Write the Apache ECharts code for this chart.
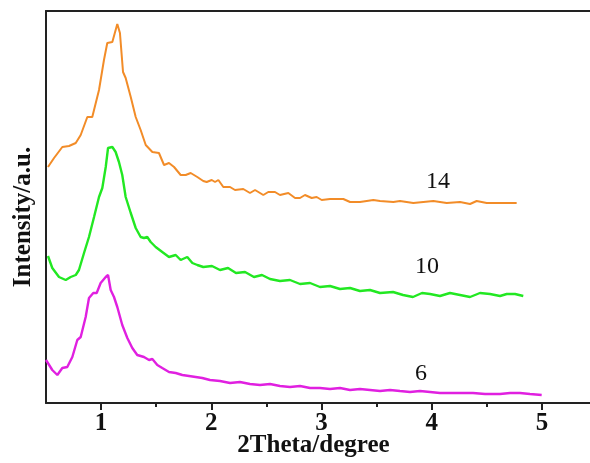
<!DOCTYPE html>
<html>
<head>
<meta charset="utf-8">
<script src="https://cdn.jsdelivr.net/npm/echarts@6/dist/echarts.min.js"></script>
<style>html,body{margin:0;padding:0;background:#fff}#c{width:590px;height:463px}</style>
</head>
<body>
<div id="c"></div>
<script>
// ---- data (2Theta in degrees, intensity in arbitrary units) ----
const sampleNames = ['14', '10', '6'];
const tickValues = [1, 2, 3, 4, 5];
const minorTickValues = [1.5, 2.5, 3.5, 4.5];
const labelAnchors = [[4.057, 221], [3.957, 136], [3.903, 29]];

const s14 = [
  [0.518,236],[0.573,245],[0.648,256],[0.709,257],[0.770,260],[0.815,268],[0.875,286],[0.920,286],
  [0.981,313],[1.026,343],[1.056,360],[1.102,361],[1.147,379],[1.171,370],[1.199,331],[1.223,325],
  [1.269,306],[1.314,286],[1.359,273],[1.405,258],[1.465,251],[1.525,250],[1.571,238],[1.616,240],
  [1.662,236],[1.722,228],[1.768,228],[1.813,230],[1.873,226],[1.927,222],[1.958,221],[2.004,223],
  [2.034,221],[2.064,223],[2.109,216],[2.170,216],[2.215,213],[2.290,214],[2.351,210],[2.397,213],
  [2.472,208],[2.517,211],[2.578,211],[2.623,208],[2.699,210],[2.760,205],[2.805,205],[2.850,208],
  [2.911,205],[2.956,206],[3.002,203],[3.077,204],[3.198,204],[3.259,201],[3.349,201],[3.410,202],
  [3.470,203],[3.531,202],[3.652,201],[3.712,202],[3.833,200],[4.015,202],[4.136,200],[4.257,201],
  [4.348,199],[4.408,202],[4.499,200],[4.620,200],[4.771,200]
];
const s10 = [
  [0.518,147],[0.557,135],[0.618,126],[0.679,123],[0.724,126],[0.770,128],[0.799,133],[0.845,150],
  [0.890,166],[0.936,186],[0.981,206],[1.011,215],[1.042,236],[1.063,255],[1.102,256],[1.132,251],
  [1.162,241],[1.192,228],[1.223,206],[1.269,190],[1.314,175],[1.359,166],[1.389,165],[1.419,166],
  [1.450,161],[1.495,156],[1.555,151],[1.616,146],[1.677,148],[1.722,143],[1.782,146],[1.828,140],
  [1.873,138],[1.927,136],[2.006,137],[2.079,133],[2.152,135],[2.224,130],[2.306,131],[2.387,126],
  [2.460,128],[2.533,124],[2.623,122],[2.714,123],[2.805,119],[2.896,120],[2.986,116],[3.077,117],
  [3.168,114],[3.259,115],[3.349,112],[3.440,113],[3.531,110],[3.649,111],[3.740,108],[3.830,106],
  [3.912,110],[3.985,109],[4.075,107],[4.166,110],[4.257,108],[4.348,106],[4.438,110],[4.529,109],
  [4.620,107],[4.681,109],[4.756,109],[4.831,107]
];
const s6 = [
  [0.500,43],[0.557,33],[0.603,28],[0.648,35],[0.693,36],[0.739,46],[0.784,63],[0.815,66],
  [0.860,86],[0.890,105],[0.929,110],[0.960,110],[0.996,120],[1.042,126],[1.063,128],[1.087,113],
  [1.117,106],[1.147,96],[1.192,78],[1.238,65],[1.283,55],[1.328,48],[1.389,46],[1.435,43],
  [1.465,44],[1.510,38],[1.555,35],[1.616,31],[1.677,30],[1.737,28],[1.798,27],[1.858,26],
  [1.918,25],[1.988,23],[2.079,22],[2.170,20],[2.260,21],[2.351,19],[2.442,18],[2.533,19],
  [2.623,17],[2.714,16],[2.805,17],[2.896,15],[2.986,15],[3.077,14],[3.168,15],[3.259,13],
  [3.349,14],[3.440,13],[3.531,12],[3.622,13],[3.712,12],[3.803,11],[3.894,12],[3.985,11],
  [4.075,10],[4.166,10],[4.257,10],[4.375,10],[4.484,9],[4.620,9],[4.711,10],[4.801,10],
  [4.892,9],[4.998,8]
];
const seriesData = [s14, s10, s6];
const colors = ['#F28C28', '#22E822', '#E020E0'];
const widths = [2, 2.4, 2.4];

const serif = '"Liberation Serif","Times New Roman",serif';

const chart = echarts.init(document.getElementById('c'), null, {renderer: 'canvas'});
chart.setOption({
  animation: false,
  backgroundColor: '#fff',
  grid: {left: 46, top: 11, width: 551, height: 392, containLabel: false, outerBoundsMode: 'none', show: false},
  xAxis: [{
    type: 'value', min: 0.5, max: 5.5, position: 'bottom',
    name: '2Theta/degree', nameLocation: 'middle', nameGap: 30, nameMoveOverlap: false,
    nameTextStyle: {fontFamily: serif, fontWeight: 'bold', fontSize: 25, color: '#111', padding: [0, 16, 0, 0]},
    axisLine: {show: true, lineStyle: {color: '#222', width: 2}},
    axisTick: {show: true, inside: false, length: 7, customValues: tickValues, lineStyle: {color: '#222', width: 2}},
    axisLabel: {show: true, customValues: tickValues, margin: 8, fontFamily: serif, fontWeight: 'bold', fontSize: 25, color: '#111'},
    splitLine: {show: false}
  }, {
    type: 'value', min: 0.5, max: 5.5, position: 'bottom',
    axisLine: {show: false},
    axisTick: {show: true, inside: false, length: 4, customValues: minorTickValues, lineStyle: {color: '#222', width: 2}},
    axisLabel: {show: false},
    splitLine: {show: false}
  }, {
    type: 'value', min: 0.5, max: 5.5, position: 'top',
    axisLine: {show: true, lineStyle: {color: '#222', width: 2}},
    axisTick: {show: false}, axisLabel: {show: false}, splitLine: {show: false}
  }],
  yAxis: {
    type: 'value', min: 0, max: 392,
    name: 'Intensity/a.u.', nameLocation: 'middle', nameGap: 10, nameMoveOverlap: false,
    nameTextStyle: {fontFamily: serif, fontWeight: 'bold', fontSize: 25, color: '#111', padding: [0, 20, 0, 0]},
    axisLine: {show: true, lineStyle: {color: '#222', width: 2}},
    axisTick: {show: false}, axisLabel: {show: false}, splitLine: {show: false}
  },
  series: seriesData.map((d, i) => ({
    type: 'line', name: sampleNames[i], data: d, xAxisIndex: 0,
    showSymbol: false, symbol: 'none', smooth: false,
    lineStyle: {color: colors[i], width: widths[i]},
    itemStyle: {color: colors[i]},
    markPoint: {
      symbol: 'circle', symbolSize: 0,
      label: {show: true, position: 'inside', formatter: sampleNames[i], fontFamily: serif, fontSize: 24, color: '#111'},
      data: [{coord: labelAnchors[i]}]
    }
  }))
});
</script>
</body>
</html>
